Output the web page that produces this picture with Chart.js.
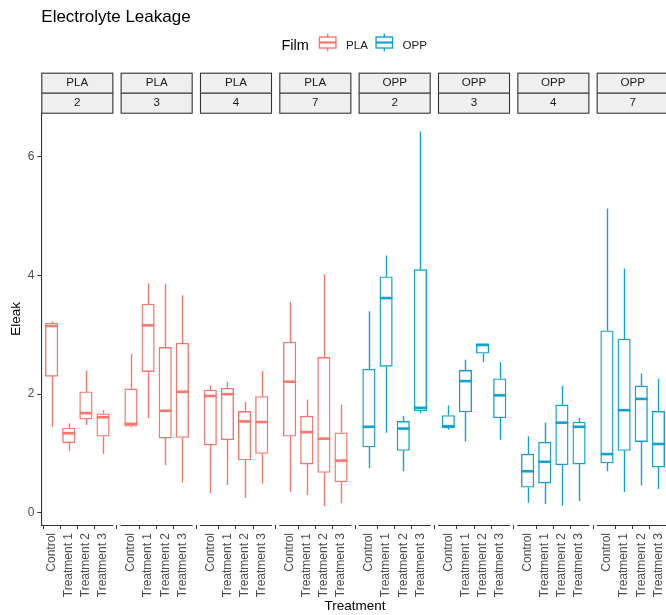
<!DOCTYPE html>
<html>
<head>
<meta charset="utf-8">
<script src="https://cdn.jsdelivr.net/npm/chart.js@4.4.1/dist/chart.umd.min.js"></script>
<style>
  html, body { margin: 0; padding: 0; background: #fff; width: 666px; height: 615px; overflow: hidden; }
  #wrap { position: absolute; left: 0; top: 0; width: 680px; height: 615px; }
</style>
</head>
<body>
<div id="wrap"><canvas id="c" width="680" height="615"></canvas></div>
<script>
// ---- data -----------------------------------------------------------------
const films = ['PLA', 'OPP'];
const days = ['2', '3', '4', '7'];
const treatments = ['Control', 'Treatment 1', 'Treatment 2', 'Treatment 3'];
const yTickValues = [0, 2, 4, 6];

// Box statistics, ordered day 2, 3, 4, 7; within each day Control, T1, T2, T3
const plaMin = [1.45, 1.04, 1.48, 0.99,  1.44, 1.60, 0.80, 0.51,  0.33, 0.47, 0.25, 0.49,  0.35, 0.30, 0.11, 0.16];
const plaQ1  = [2.30, 1.18, 1.58, 1.29,  1.46, 2.38, 1.26, 1.27,  1.14, 1.23, 0.89, 1.00,  1.29, 0.82, 0.68, 0.52];
const plaMed = [3.15, 1.34, 1.68, 1.61,  1.50, 3.16, 1.72, 2.04,  1.97, 2.00, 1.54, 1.53,  2.21, 1.36, 1.25, 0.88];
const plaQ3  = [3.20, 1.43, 2.04, 1.67,  2.09, 3.52, 2.79, 2.86,  2.07, 2.10, 1.71, 1.96,  2.88, 1.63, 2.62, 1.35];
const plaMax = [3.23, 1.51, 2.40, 1.73,  2.68, 3.87, 3.86, 3.67,  2.15, 2.21, 1.87, 2.39,  3.56, 1.91, 4.02, 1.82];

const oppMin = [0.75, 1.35, 0.70, 1.68,  1.40, 1.20, 2.54, 1.23,  0.17, 0.15, 0.12, 0.20,  0.70, 0.35, 0.46, 0.40];
const oppQ1  = [1.11, 2.47, 1.05, 1.72,  1.43, 1.70, 2.69, 1.60,  0.43, 0.50, 0.81, 0.82,  0.84, 1.05, 1.20, 0.77];
const oppMed = [1.45, 3.62, 1.42, 1.77,  1.46, 2.22, 2.83, 1.98,  0.70, 0.86, 1.52, 1.45,  0.99, 1.73, 1.92, 1.16];
const oppQ3  = [2.42, 3.98, 1.54, 4.10,  1.64, 2.40, 2.85, 2.26,  0.99, 1.19, 1.82, 1.53,  3.07, 2.93, 2.14, 1.71];
const oppMax = [3.40, 4.34, 1.63, 6.43,  1.81, 2.58, 2.85, 2.54,  1.29, 1.52, 2.14, 1.60,  5.13, 4.12, 2.35, 2.26];

const stats = {
  PLA: { min: plaMin, q1: plaQ1, med: plaMed, q3: plaQ3, max: plaMax },
  OPP: { min: oppMin, q1: oppQ1, med: oppMed, q3: oppQ3, max: oppMax }
};

// ---- styling --------------------------------------------------------------
const filmColors = { PLA: '#F8766D', OPP: '#13A2CF' };
const FONT = "'Liberation Sans', Arial, Helvetica, sans-serif";
const INK = '#333333';
const TICK_TEXT = '#4D4D4D';

// facet geometry in x-scale units: 4 slots (+0.6 expansion each side) per panel
const PANEL_W = 4.2;
const PANEL_GAP = 0.426;
const PITCH = PANEL_W + PANEL_GAP;
const NPANELS = films.length * days.length;
const BOX_PX = 12.5;
const LINE_W = 1.4;

function slotX(panel, t) { return panel * PITCH + 0.6 + t; }

const allVals = plaMin.concat(plaMax, oppMin, oppMax);
const yLo = Math.min(...allVals), yHi = Math.max(...allVals);
const yPad = (yHi - yLo) * 0.05;

const tickPositions = [];
const tickLabels = [];
for (let p = 0; p < NPANELS; p++) {
  treatments.forEach((t, ti) => { tickPositions.push(slotX(p, ti)); tickLabels.push(t); });
}

const datasets = films.map((film, fi) => ({
  label: film,
  data: days.flatMap((d, di) => treatments.map((t, ti) => {
    const k = di * 4 + ti;
    return { x: slotX(fi * 4 + di, ti), y: [stats[film].q1[k], stats[film].q3[k]] };
  })),
  backgroundColor: '#FFFFFF',
  borderColor: filmColors[film],
  borderWidth: LINE_W,
  borderSkipped: false,
  barThickness: BOX_PX,
  grouped: false
}));

// whiskers, medians, facet strips, per-panel axis lines, title and legend
const boxplotParts = {
  id: 'boxplotParts',
  beforeDatasetsDraw(chart) {
    const { ctx, scales: { x, y } } = chart;
    ctx.save();
    ctx.lineWidth = LINE_W;
    films.forEach((film, fi) => {
      const s = stats[film];
      ctx.strokeStyle = filmColors[film];
      days.forEach((d, di) => treatments.forEach((t, ti) => {
        const k = di * 4 + ti;
        const px = Math.round(x.getPixelForValue(slotX(fi * 4 + di, ti))) + 0.5;
        ctx.beginPath();
        ctx.moveTo(px, y.getPixelForValue(s.q3[k]));
        ctx.lineTo(px, y.getPixelForValue(s.max[k]));
        ctx.moveTo(px, y.getPixelForValue(s.q1[k]));
        ctx.lineTo(px, y.getPixelForValue(s.min[k]));
        ctx.stroke();
      }));
    });
    ctx.restore();
  },
  afterDatasetsDraw(chart) {
    const { ctx, scales: { x, y } } = chart;
    ctx.save();
    ctx.lineWidth = 2.6;
    films.forEach((film, fi) => {
      const s = stats[film];
      ctx.strokeStyle = filmColors[film];
      days.forEach((d, di) => treatments.forEach((t, ti) => {
        const k = di * 4 + ti;
        const px = x.getPixelForValue(slotX(fi * 4 + di, ti));
        const py = y.getPixelForValue(s.med[k]);
        ctx.beginPath();
        ctx.moveTo(px - BOX_PX / 2, py);
        ctx.lineTo(px + BOX_PX / 2, py);
        ctx.stroke();
      }));
    });
    ctx.restore();
  },
  afterDraw(chart) {
    const { ctx, chartArea, scales: { x } } = chart;
    ctx.save();
    // per-panel x axis lines
    ctx.strokeStyle = INK;
    ctx.lineWidth = 1.1;
    for (let p = 0; p < NPANELS; p++) {
      const x0 = x.getPixelForValue(p * PITCH);
      const x1 = x.getPixelForValue(p * PITCH + PANEL_W);
      ctx.beginPath();
      ctx.moveTo(x0, chartArea.bottom + 0.5);
      ctx.lineTo(x1, chartArea.bottom + 0.5);
      ctx.stroke();
    }
    // facet strips: film on top, day below
    const rowH = 20;
    const top0 = chartArea.top - 2 * rowH;
    ctx.font = '11.6px ' + FONT;
    ctx.textAlign = 'center';
    ctx.textBaseline = 'middle';
    for (let p = 0; p < NPANELS; p++) {
      const x0 = x.getPixelForValue(p * PITCH);
      const x1 = x.getPixelForValue(p * PITCH + PANEL_W);
      const rows = [films[Math.floor(p / days.length)], days[p % days.length]];
      rows.forEach((txt, r) => {
        const yy = top0 + r * rowH;
        ctx.fillStyle = '#EFEFEF';
        ctx.fillRect(x0, yy, x1 - x0, rowH);
        ctx.strokeStyle = INK;
        ctx.lineWidth = 1.1;
        ctx.strokeRect(x0 + 0.5, yy + 0.5, x1 - x0 - 1, rowH);
        ctx.fillStyle = '#1A1A1A';
        ctx.fillText(txt, (x0 + x1) / 2, yy + rowH / 2 + 0.5);
      });
    }
    // plot title
    ctx.textAlign = 'left';
    ctx.textBaseline = 'alphabetic';
    ctx.fillStyle = '#000000';
    ctx.font = '17px ' + FONT;
    ctx.fillText('Electrolyte Leakage', chartArea.left, 22);
    // legend
    ctx.textBaseline = 'middle';
    ctx.font = '14.5px ' + FONT;
    ctx.fillText('Film', 281.5, 45.5);
    const keyS = 22;
    const keyCentres = [327.7, 384.3];
    ctx.font = '11.6px ' + FONT;
    films.forEach((film, fi) => {
      const cx = keyCentres[fi], cy = 42.5;
      const kx = cx - keyS / 2, ky = cy - keyS / 2;
      ctx.strokeStyle = filmColors[film];
      ctx.lineWidth = LINE_W;
      ctx.beginPath();
      ctx.moveTo(cx, ky + 0.1 * keyS); ctx.lineTo(cx, ky + 0.25 * keyS);
      ctx.moveTo(cx, ky + 0.75 * keyS); ctx.lineTo(cx, ky + 0.9 * keyS);
      ctx.stroke();
      ctx.fillStyle = '#FFFFFF';
      ctx.fillRect(kx + 0.125 * keyS, ky + 0.25 * keyS, 0.75 * keyS, 0.5 * keyS);
      ctx.strokeRect(kx + 0.125 * keyS, ky + 0.25 * keyS, 0.75 * keyS, 0.5 * keyS);
      ctx.lineWidth = 2.2;
      ctx.beginPath();
      ctx.moveTo(kx + 0.125 * keyS, cy); ctx.lineTo(kx + 0.875 * keyS, cy);
      ctx.stroke();
      ctx.fillStyle = '#1A1A1A';
      ctx.fillText(film, cx + 18.3, 45.5);
    });
    ctx.restore();
  }
};

new Chart(document.getElementById('c'), {
  type: 'bar',
  data: { datasets },
  options: {
    responsive: false,
    animation: false,
    devicePixelRatio: 1,
    layout: { padding: { left: 0, right: 11.3, top: 112.7, bottom: 0 } },
    plugins: { legend: { display: false }, title: { display: false }, tooltip: { enabled: false } },
    scales: {
      x: {
        type: 'linear',
        offset: false,
        min: 0,
        max: (NPANELS - 1) * PITCH + PANEL_W,
        afterBuildTicks(scale) { scale.ticks = tickPositions.map(v => ({ value: v })); },
        afterFit(scale) { scale.height = 90; },
        grid: { drawOnChartArea: false, drawTicks: true, tickLength: 4, color: INK, lineWidth: 1 },
        border: { display: false },
        ticks: {
          autoSkip: false,
          minRotation: 90,
          maxRotation: 90,
          padding: 4,
          color: TICK_TEXT,
          font: { family: FONT, size: 12 },
          callback(value, index) { return tickLabels[index]; }
        },
        title: { display: true, text: 'Treatment', color: '#000000', font: { family: FONT, size: 13.5 }, padding: { top: 0, bottom: 1 } }
      },
      y: {
        min: yLo - yPad,
        max: yHi + yPad,
        afterBuildTicks(scale) { scale.ticks = yTickValues.map(v => ({ value: v })); },
        afterFit(scale) { scale.width = 41.3; },
        grid: { drawOnChartArea: false, drawTicks: true, tickLength: 4, color: INK, lineWidth: 1 },
        border: { display: true, color: INK, width: 1.1 },
        ticks: { padding: 3, color: TICK_TEXT, font: { family: FONT, size: 12 } },
        title: { display: true, text: 'Eleak', color: '#000000', font: { family: FONT, size: 13.5 }, padding: { top: 8.6, bottom: 0 } }
      }
    }
  },
  plugins: [boxplotParts]
});
</script>
</body>
</html>
